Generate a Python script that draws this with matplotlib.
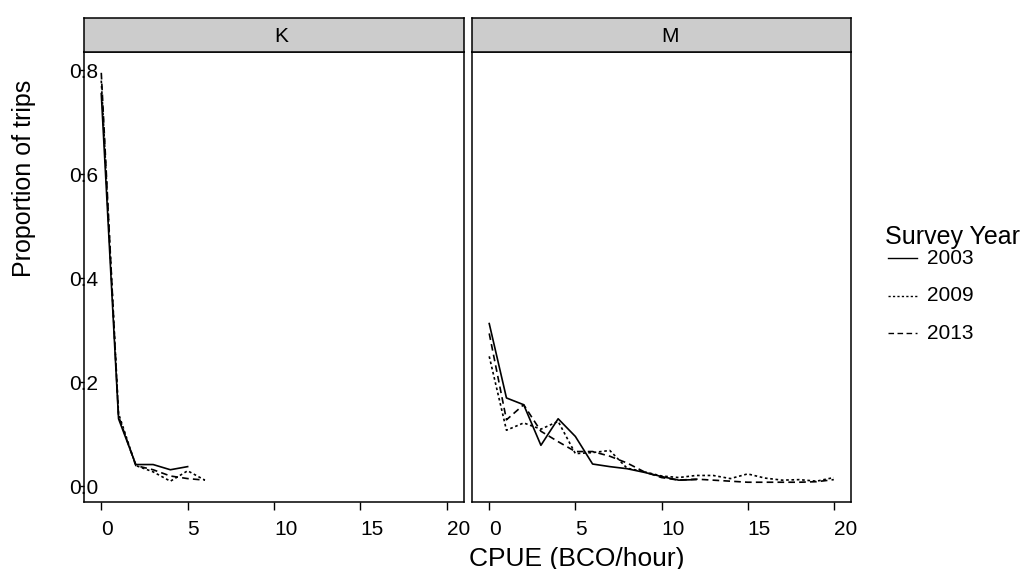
import matplotlib.pyplot as plt
from matplotlib.lines import Line2D

plt.rcParams['font.family'] = ['Liberation Sans', 'DejaVu Sans']

# Proportion of trips by CPUE bin, per site and survey year
years = ['2003', '2009', '2013']
styles = {'2003': '-', '2009': (0, (1.6, 1.6)), '2013': (0, (4, 2.5))}

k_x = {'2003': [0, 1, 2, 3, 4, 5],
       '2009': [0, 1, 2, 3, 4, 5, 6],
       '2013': [0, 1, 2, 3, 4, 5, 6]}
k_y = {'2003': [0.755, 0.13, 0.042, 0.042, 0.032, 0.038],
       '2009': [0.78, 0.14, 0.04, 0.028, 0.01, 0.03, 0.012],
       '2013': [0.795, 0.135, 0.04, 0.032, 0.02, 0.015, 0.012]}

m_x = {'2003': list(range(0, 13)),
       '2009': list(range(0, 21)),
       '2013': list(range(0, 21))}
m_y = {'2003': [0.313, 0.17, 0.157, 0.079, 0.13, 0.096, 0.043, 0.038,
                0.034, 0.027, 0.019, 0.012, 0.013],
       '2009': [0.25, 0.108, 0.122, 0.11, 0.125, 0.063, 0.065, 0.069,
                0.035, 0.028, 0.02, 0.017, 0.021, 0.021, 0.015, 0.024,
                0.016, 0.012, 0.013, 0.01, 0.017],
       '2013': [0.294, 0.128, 0.157, 0.106, 0.086, 0.067, 0.067, 0.058,
                0.045, 0.028, 0.017, 0.012, 0.014, 0.012, 0.01, 0.008,
                0.008, 0.008, 0.008, 0.009, 0.013]}

panels = [('K', k_x, k_y), ('M', m_x, m_y)]
xticks = [0, 5, 10, 15, 20]
yticks = [0.0, 0.2, 0.4, 0.6, 0.8]

fig = plt.figure(figsize=(10.25, 5.69), dpi=100)
W, H = 1025, 569
lefts = [84, 472]
rights = [464, 851]
top, bottom, strip_top = 52, 502, 17.5

for i, (name, xs, ys) in enumerate(panels):
    ax = fig.add_axes([lefts[i] / W, 1 - bottom / H,
                       (rights[i] - lefts[i]) / W, (bottom - top) / H])
    for yr in years:
        ax.plot(xs[yr], ys[yr], color='black', lw=1.2, linestyle=styles[yr])
    ax.set_xlim(-1, 21)
    ax.set_ylim(-0.03, 0.835)
    ax.set_xticks(xticks)
    ax.set_yticks(yticks)
    for s in ax.spines.values():
        s.set_linewidth(1.1)
    ax.tick_params(axis='x', length=5.8, width=1, labelsize=15, pad=7.5)
    plt.setp(ax.get_xticklabels(), ha='left')
    if i == 0:
        ax.set_yticklabels(['0.0', '0.2', '0.4', '0.6', '0.8'])
        ax.tick_params(axis='y', length=3, width=1, labelsize=15, pad=-3)
        plt.setp(ax.get_yticklabels(), ha='center')
    else:
        ax.tick_params(axis='y', length=0, labelleft=False)

    # facet strip
    sax = fig.add_axes([lefts[i] / W, 1 - top / H,
                        (rights[i] - lefts[i]) / W, (top - strip_top) / H])
    sax.set_facecolor('#cccccc')
    sax.set_xticks([])
    sax.set_yticks([])
    for s in sax.spines.values():
        s.set_linewidth(1.1)
    sax.text(0.5, 0.45, name, ha='left', va='center', fontsize=15,
             transform=sax.transAxes)

fig.text(24 / W, 1 - 277 / H, 'Proportion of trips', rotation=90,
         ha='center', va='bottom', fontsize=18)
fig.text(469 / W, 1 - 566 / H, 'CPUE (BCO/hour)', ha='left',
         va='baseline', fontsize=19)

# legend
fig.text(885 / W, 1 - 237 / H, 'Survey Year', ha='left', va='center',
         fontsize=18)
for j, yr in enumerate(years):
    yy = 1 - (258 + 37.7 * j) / H
    fig.add_artist(Line2D([888 / W, 917 / W], [yy, yy], color='black',
                          lw=1.0, linestyle=styles[yr]))
    fig.text(927 / W, yy, yr, ha='left', va='center', fontsize=15)

fig.savefig('out.png', dpi=100)
